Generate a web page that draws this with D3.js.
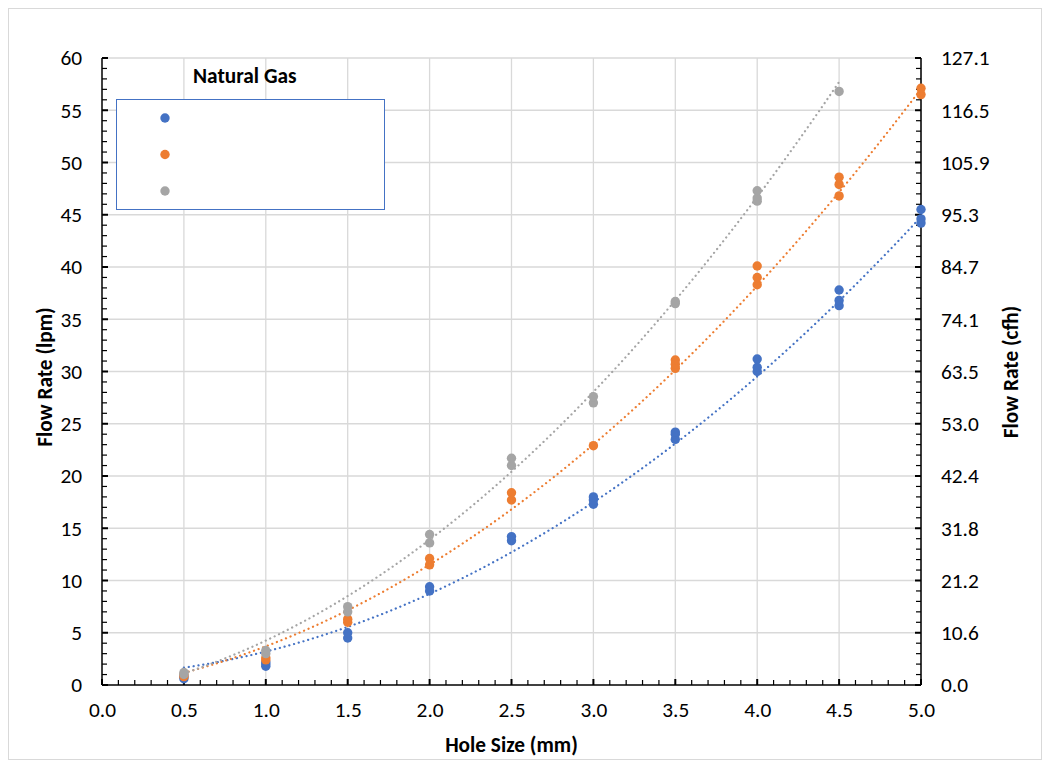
<!DOCTYPE html>
<html><head><meta charset="utf-8">
<script src="https://cdn.jsdelivr.net/npm/d3@7"></script>
<style>body{margin:0;background:#fff}svg{display:block}text{font-family:Carlito,Calibri,Lato,"Liberation Sans",Arial,sans-serif}</style>
</head><body><svg id="c" width="1050" height="769"></svg>
<script>
const holeSizes = [0.5,1.0,1.5,2.0,2.5,3.0,3.5,4.0,4.5,5.0];
const seriesA = [[0.6,0.8],[1.8,2.0,2.2],[4.5,5.0],[9.0,9.4],[13.8,14.2],[17.3,17.7,18.0],[23.5,24.0,24.2],[30.0,30.4,31.2],[36.3,36.8,37.8],[44.2,44.6,45.5]];
const seriesB = [[0.8,1.0],[2.4,2.6],[6.0,6.3],[11.5,12.1],[17.7,18.4],[22.9],[30.3,30.7,31.1],[38.3,39.0,40.1],[46.8,47.9,48.6],[56.5,57.1]];
const seriesC = [[1.0,1.2],[3.0,3.3],[7.0,7.5],[13.6,14.4],[21.0,21.7],[27.0,27.6],[36.5,36.7],[46.3,46.6,47.3],[56.8],[]];
// polynomial (order 2) trendline coefficients [c0, c1, c2]
const trendA = [0.925, 0.65, 1.625];
const trendB = [-0.45, 2.31, 1.8375];
const trendC = [-0.9, 2.9, 2.25];
const seriesColors = ["#4472c4","#ed7d31","#a5a5a5"];
const xTicks = [0,0.5,1,1.5,2,2.5,3,3.5,4,4.5,5];
const yTicks = [0,5,10,15,20,25,30,35,40,45,50,55,60];
const cfhLabels = ["0.0","10.6","21.2","31.8","42.4","53.0","63.5","74.1","84.7","95.3","105.9","116.5","127.1"];
const legendTitle = "Natural Gas";

const FS = 21.33;
const svg = d3.select("#c");
const L=102, R=921, T=58, B=685;
const x = d3.scaleLinear().domain([0,5]).range([L,R]);
const y = d3.scaleLinear().domain([0,60]).range([B,T]);

svg.append("rect").attr("x",8.5).attr("y",8.5).attr("width",1033).attr("height",751).attr("fill","#fff").attr("stroke","#d9d9d9");

const g = svg.append("g");
g.selectAll(".vg").data(xTicks.slice(1)).join("line").attr("x1",d=>x(d)).attr("x2",d=>x(d)).attr("y1",T).attr("y2",B).attr("stroke","#d9d9d9").attr("stroke-width",1.3);
g.selectAll(".hg").data(yTicks.slice(1)).join("line").attr("x1",L).attr("x2",R).attr("y1",d=>y(d)).attr("y2",d=>y(d)).attr("stroke","#d9d9d9").attr("stroke-width",1.3);

const xAx = d3.axisBottom(x).tickValues(xTicks).tickFormat(d3.format(".1f")).tickSize(0).tickPadding(17);
const ax = g.append("g").attr("transform",`translate(0,${B})`).call(xAx);
ax.select(".domain").remove();
ax.selectAll("text").attr("font-size",FS).attr("fill","#000");
const yAx = d3.axisLeft(y).tickValues(yTicks).tickSize(0).tickPadding(20);
const ay = g.append("g").attr("transform",`translate(${L},0)`).call(yAx);
ay.select(".domain").remove();
ay.selectAll("text").attr("font-size",FS).attr("fill","#000");
const yR = d3.axisRight(y).tickValues(yTicks).tickFormat((d,i)=>cfhLabels[i]).tickSize(0).tickPadding(20);
const ar = g.append("g").attr("transform",`translate(${R},0)`).call(yR);
ar.select(".domain").remove();
ar.selectAll("text").attr("font-size",FS).attr("fill","#000");

const minorX = d3.range(0,51).map(i=>i/10);
g.selectAll(".mx").data(minorX).join("line").attr("x1",d=>x(d)).attr("x2",d=>x(d)).attr("y1",B).attr("y2",(d,i)=>i%5===0?B-6:B-5).attr("stroke","#000").attr("stroke-width",(d,i)=>i%5===0?2:1.2);
const minorY = d3.range(0,61);
g.selectAll(".my").data(minorY).join("line").attr("x1",L).attr("x2",d=>L+(d%5===0?6:5)).attr("y1",d=>y(d)).attr("y2",d=>y(d)).attr("stroke","#000").attr("stroke-width",(d)=>d%5===0?2:1.2);
g.selectAll(".myr").data(minorY).join("line").attr("x1",R).attr("x2",d=>R-(d%5===0?6:5)).attr("y1",d=>y(d)).attr("y2",d=>y(d)).attr("stroke","#000").attr("stroke-width",(d)=>d%5===0?2:1.2);

g.append("line").attr("x1",L).attr("x2",R).attr("y1",B).attr("y2",B).attr("stroke","#000").attr("stroke-width",1.5);
g.append("line").attr("x1",L).attr("x2",L).attr("y1",T).attr("y2",B).attr("stroke","#000").attr("stroke-width",1.5);
g.append("line").attr("x1",R).attr("x2",R).attr("y1",T).attr("y2",B).attr("stroke","#000").attr("stroke-width",1.5);

const allSeries = [seriesA,seriesB,seriesC];
const trends = [trendA,trendB,trendC];
allSeries.forEach((s,si)=>{
  const pts = [];
  s.forEach((vals,i)=>vals.forEach(v=>pts.push([holeSizes[i],v])));
  const c = trends[si];
  const xmin=d3.min(pts,p=>p[0]), xmax=d3.max(pts,p=>p[0]);
  const tl = d3.range(0,101).map(i=>{const xv=xmin+(xmax-xmin)*i/100;return [xv,c[0]+c[1]*xv+c[2]*xv*xv];});
  g.append("path").datum(tl).attr("d",d3.line().x(d=>x(d[0])).y(d=>y(d[1])))
    .attr("fill","none").attr("stroke",seriesColors[si]).attr("stroke-width",2.2).attr("stroke-dasharray","0.1,4.8").attr("stroke-linecap","round");
  g.selectAll(null).data(pts).join("circle").attr("cx",d=>x(d[0])).attr("cy",d=>y(d[1])).attr("r",4.7).attr("fill",seriesColors[si]);
});

svg.append("text").attr("x",193).attr("y",83).attr("font-size",FS).attr("font-weight","bold").text(legendTitle);
svg.append("rect").attr("x",116.5).attr("y",99.5).attr("width",268).attr("height",110).attr("fill","#fff").attr("stroke","#4472c4").attr("stroke-width",1);
seriesColors.forEach((c,i)=>svg.append("circle").attr("cx",165).attr("cy",118+i*36.5).attr("r",4.7).attr("fill",c));

svg.append("text").attr("x",x(2.5)).attr("y",752).attr("text-anchor","middle").attr("font-size",FS).attr("font-weight","bold").text("Hole Size (mm)");
svg.append("text").attr("transform",`translate(52,377) rotate(-90)`).attr("text-anchor","middle").attr("font-size",FS).attr("font-weight","bold").text("Flow Rate (lpm)");
svg.append("text").attr("transform",`translate(1018,372) rotate(-90)`).attr("text-anchor","middle").attr("font-size",FS).attr("font-weight","bold").text("Flow Rate (cfh)");
</script></body></html>
